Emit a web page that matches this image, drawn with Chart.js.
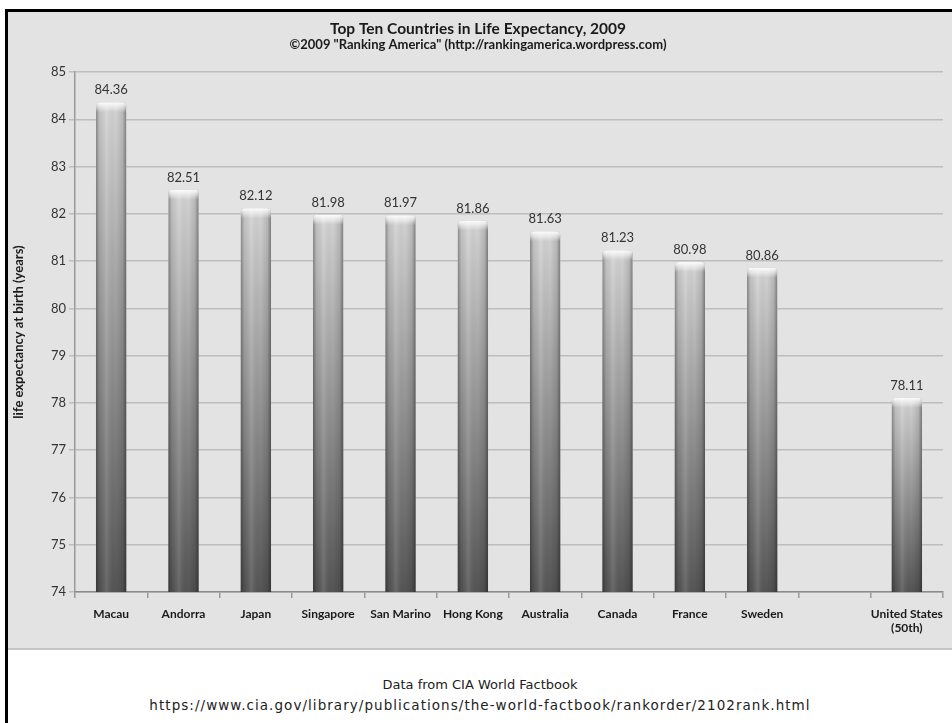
<!DOCTYPE html>
<html>
<head>
<meta charset="utf-8">
<title>Top Ten Countries in Life Expectancy, 2009</title>
<script src="https://cdn.jsdelivr.net/npm/chart.js@4.4.1/dist/chart.umd.min.js"></script>
<style>
  body { margin: 0; width: 952px; height: 723px; background: #fff; position: relative; overflow: hidden; }
  #frame { position: absolute; left: 5px; top: 9px; width: 947px; height: 714px; border-top: 3px solid #000; border-left: 3px solid #000; box-sizing: border-box; }
  #box { position: absolute; left: 8px; top: 12px; width: 944px; height: 637px; background: #e3e3e3; }
  #boxLine { position: absolute; left: 8px; top: 648px; width: 944px; height: 2px; background: #c6c6c6; }
  .foot { position: absolute; left: 8px; width: 944px; text-align: center; font-family: "DejaVu Sans", sans-serif; font-size: 13px; color: #222; line-height: 20px; white-space: nowrap; }
</style>
</head>
<body>
<div id="frame"></div>
<div id="box"><canvas id="lifeChart"></canvas></div>
<div id="boxLine"></div>
<div class="foot" style="top:675px">Data from CIA World Factbook</div>
<div class="foot" style="top:695px; font-size:13.5px; letter-spacing:1.05px">https://www.cia.gov/library/publications/the-world-factbook/rankorder/2102rank.html</div>
<script>
const countries = ["Macau", "Andorra", "Japan", "Singapore", "San Marino", "Hong Kong",
    "Australia", "Canada", "France", "Sweden", "", ["United States", "(50th)"]];
const lifeExpectancy = [84.36, 82.51, 82.12, 81.98, 81.97, 81.86, 81.63, 81.23, 80.98, 80.86, null, 78.11];
const yMin = 74;
const yMax = 85;

Chart.defaults.font.family = "Lato, sans-serif";

// side shading, top highlight and value label for each bar
const cylinderBars = {
    id: "cylinderBars",
    afterDatasetsDraw(chart) {
        const ctx = chart.ctx;
        const bottom = chart.chartArea.bottom;
        chart.getDatasetMeta(0).data.forEach((bar, i) => {
            const v = lifeExpectancy[i];
            if (v == null) return;
            const { x, y, width } = bar.getProps(["x", "y", "width"], true);
            const l = x - width / 2;
            const h = bottom - y;
            ctx.save();
            ctx.beginPath();
            ctx.roundRect(l, y, width, h, [4, 4, 0, 0]);
            ctx.clip();

            const side = ctx.createLinearGradient(l, 0, l + width, 0);
            side.addColorStop(0, "rgba(0,0,0,0.35)");
            side.addColorStop(0.12, "rgba(0,0,0,0.08)");
            side.addColorStop(0.35, "rgba(255,255,255,0.12)");
            side.addColorStop(0.65, "rgba(0,0,0,0)");
            side.addColorStop(0.88, "rgba(0,0,0,0.12)");
            side.addColorStop(1, "rgba(0,0,0,0.4)");
            ctx.fillStyle = side;
            ctx.fillRect(l, y, width, h);

            const cap = ctx.createLinearGradient(0, y, 0, y + 10);
            cap.addColorStop(0, "rgba(255,255,255,0.95)");
            cap.addColorStop(0.5, "rgba(255,255,255,0.5)");
            cap.addColorStop(1, "rgba(255,255,255,0)");
            ctx.fillStyle = cap;
            ctx.fillRect(l, y, width, 10);
            ctx.restore();

            ctx.save();
            ctx.fillStyle = "#333";
            ctx.font = "13px Lato, sans-serif";
            ctx.textAlign = "center";
            ctx.textBaseline = "middle";
            ctx.fillText(v.toFixed(2), x, y - 12);
            ctx.restore();
        });
    }
};

const ctx = document.getElementById("lifeChart").getContext("2d");
const lifeChart = new Chart(ctx, {
    type: "bar",
    data: {
        labels: countries,
        datasets: [{
            label: "life expectancy at birth (years)",
            data: lifeExpectancy,
            backgroundColor: (c) => {
                const chart = c.chart;
                if (!chart.chartArea || c.raw == null) return "#999";
                const top = chart.scales.y.getPixelForValue(c.raw);
                const g = chart.ctx.createLinearGradient(0, top, 0, chart.chartArea.bottom);
                g.addColorStop(0, "#d4d4d4");
                g.addColorStop(1, "#555555");
                return g;
            },
            borderRadius: { topLeft: 4, topRight: 4 },
            borderSkipped: "bottom",
            barPercentage: 0.42,
            categoryPercentage: 1
        }]
    },
    options: {
        responsive: true,
        maintainAspectRatio: false,
        animation: false,
        layout: {
            padding: { top: 0, right: 4, bottom: 0, left: 0 }
        },
        scales: {
            x: {
                afterFit: (s) => { s.height = 57; },
                grid: { offset: true, drawOnChartArea: false, drawTicks: true, tickLength: 6, color: "#9a9a9a", lineWidth: 1.5 },
                border: { color: "#8c8c8c", width: 1.5 },
                ticks: { color: "#1a1a1a", padding: 9, maxRotation: 0, autoSkip: false, font: { size: 12, weight: "bold" } }
            },
            y: {
                min: yMin,
                max: yMax,
                afterFit: (s) => { s.width = 67; },
                grid: { color: "#bdbdbd", lineWidth: 1.5, tickLength: 6 },
                border: { color: "#9a9a9a", width: 1.5 },
                ticks: { stepSize: 1, color: "#333", padding: 3, font: { size: 13 } },
                title: {
                    display: true,
                    text: "life expectancy at birth (years)",
                    color: "#1a1a1a",
                    padding: { top: 3, bottom: 0 },
                    font: { size: 13, weight: "bold" }
                }
            }
        },
        plugins: {
            legend: { display: false },
            tooltip: { enabled: false },
            title: {
                display: true,
                text: "Top Ten Countries in Life Expectancy, 2009",
                color: "#1a1a1a",
                padding: { top: 8.5, bottom: 0 },
                font: { size: 15.5, weight: "bold", lineHeight: 1.1 }
            },
            subtitle: {
                display: true,
                text: "\u00A92009 \"Ranking America\" (http://rankingamerica.wordpress.com)",
                color: "#1a1a1a",
                padding: { top: 0.3, bottom: 19.85 },
                font: { size: 13, weight: "bold", lineHeight: 1.1 }
            }
        }
    },
    plugins: [cylinderBars]
});
</script>
</body>
</html>
